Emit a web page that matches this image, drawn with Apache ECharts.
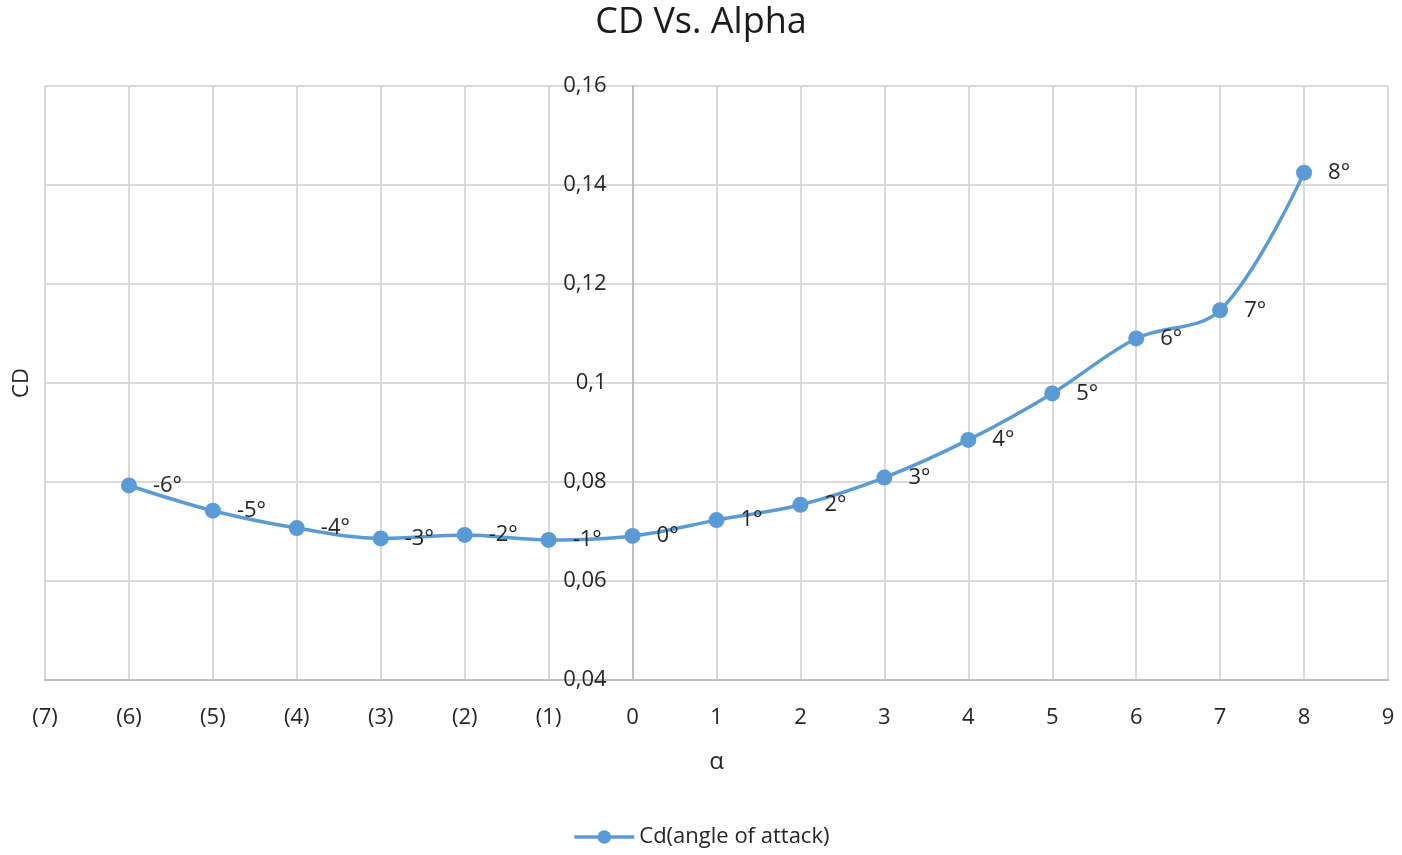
<!DOCTYPE html>
<html>
<head>
<meta charset="utf-8">
<script src="https://cdn.jsdelivr.net/npm/echarts@6/dist/echarts.min.js"></script>
<style>
html,body{margin:0;padding:0;background:#fff;}
#chart{width:1402px;height:855px;}
</style>
</head>
<body>
<div id="chart"></div>
<script>
const alpha = [-6, -5, -4, -3, -2, -1, 0, 1, 2, 3, 4, 5, 6, 7, 8];
const cd = [0.0793, 0.0742, 0.0707, 0.0686, 0.0693, 0.0683, 0.0691, 0.0723, 0.0754, 0.0809, 0.0885, 0.0979, 0.1090, 0.1147, 0.1425];
const pointLabels = ['-6°','-5°','-4°','-3°','-2°','-1°','0°','1°','2°','3°','4°','5°','6°','7°','8°'];
const seriesName = 'Cd(angle of attack)';
const titleText = 'CD Vs. Alpha';
const xName = 'α';
const yName = 'CD';

const font = '"Open Sans", "Noto Sans", sans-serif';
const gridLeft = 45;
const chart = echarts.init(document.getElementById('chart'), null, {renderer: 'canvas'});
const data = alpha.map((a, i) => [a, cd[i]]);

chart.setOption({
  backgroundColor: '#ffffff',
  animation: false,
  title: {
    text: titleText,
    left: 'center',
    top: 0,
    textStyle: {fontFamily: font, fontSize: 36, fontWeight: 'normal', color: '#1a1a1a'}
  },
  legend: {
    bottom: 2,
    left: 'center',
    itemWidth: 60,
    itemHeight: 17,
    itemGap: 10,
    textStyle: {fontFamily: font, fontSize: 22, color: '#262626'},
    data: [{name: seriesName, lineStyle: {width: 3.5}}]
  },
  grid: {left: gridLeft, right: 14, top: 86, bottom: 175, containLabel: false, outerBoundsMode: 'none'},
  xAxis: {
    type: 'value',
    min: -7, max: 9, interval: 1,
    name: xName,
    nameLocation: 'middle',
    nameGap: 70,
    nameTextStyle: {fontFamily: font, fontSize: 24, color: '#262626'},
    axisLine: {onZero: false, lineStyle: {color: '#bfbfbf', width: 2}},
    axisTick: {show: false},
    axisLabel: {
      margin: 27,
      fontFamily: font, fontSize: 22, color: '#262626',
      formatter: v => v < 0 ? '(' + (-v) + ')' : String(v)
    },
    splitLine: {show: true, lineStyle: {color: '#d9d9d9', width: 2}}
  },
  yAxis: {
    type: 'value',
    min: 0.04, max: 0.16, interval: 0.02,
    name: yName,
    nameLocation: 'middle',
    nameGap: 600,
    nameRotate: 90,
    nameTextStyle: {fontFamily: font, fontSize: 22, color: '#262626'},
    axisLine: {show: true, onZero: false, lineStyle: {color: '#bfbfbf', width: 2}},
    axisTick: {show: false},
    axisLabel: {
      margin: 26,
      fontFamily: font, fontSize: 22, color: '#262626',
      formatter: v => String(parseFloat(v.toFixed(4))).replace('.', ',')
    },
    splitLine: {show: true, lineStyle: {color: '#d9d9d9', width: 2}}
  },
  series: [{
    name: seriesName,
    type: 'line',
    data: data,
    smooth: 0.35,
    symbol: 'circle',
    symbolSize: 16,
    itemStyle: {color: '#5b9bd5'},
    lineStyle: {color: '#5b9bd5', width: 3.5},
    label: {
      show: true,
      position: 'right',
      distance: 16,
      fontFamily: font, fontSize: 22, color: '#262626',
      formatter: p => pointLabels[p.dataIndex]
    }
  }]
});

// place the vertical axis (with its labels) at x = 0 using the x scale
const zeroX = chart.convertToPixel({xAxisIndex: 0}, 0);
const shift = zeroX - gridLeft;
chart.setOption({
  yAxis: {offset: -shift}
});
</script>
</body>
</html>
